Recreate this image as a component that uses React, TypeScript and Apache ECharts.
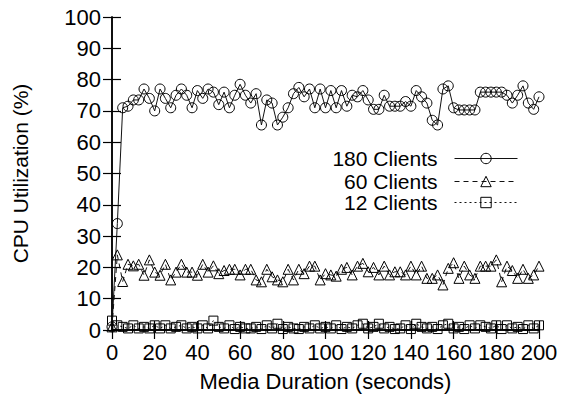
import React, { useEffect, useRef } from "react";
import * as echarts from "echarts";

// sample times (seconds), one sample every 2.5 s
const times: number[] = Array.from({ length: 81 }, (_, i) => i * 2.5);

const seriesNames = ["180 Clients", "60 Clients", "12 Clients"];

const clients180 = [
  1, 34, 71, 71.5, 73.5, 73.5, 77, 74, 70, 77,
  74, 71, 75, 77, 75, 71, 76.5, 74, 77, 76,
  72, 76, 71, 75, 78.5, 75, 72.5, 75.5, 65.5, 73.5,
  72.5, 65.5, 68, 71, 75.5, 77.5, 74.5, 77, 71, 77,
  71, 76.5, 71, 76.5, 71.5, 75, 74.5, 76.5, 73.5, 70.5,
  70.5, 75, 71.5, 71.5, 71.5, 73, 71.5, 76.5, 74.5, 72.5,
  67, 65.5, 77, 78, 71, 70.3, 70.3, 70.3, 70.3, 76,
  76, 76, 76, 76, 75, 72.5, 75, 78, 72.5, 70.5,
  74.5,
];

const clients60 = [
  1, 24, 15.5, 21, 20.5, 21, 17.5, 22.4, 18.5, 17.5,
  21, 16, 18.5, 21, 18.5, 18.5, 17.5, 21, 18.5, 20.5,
  18, 19, 19.4, 19.4, 17.6, 19.4, 19.4, 16, 15.4, 19.4,
  17, 16, 15.4, 19.4, 16, 19.4, 18, 20.4, 20.4, 16,
  18, 17.6, 17.2, 19.4, 20, 17.6, 20.4, 21.3, 18.6, 20,
  17.6, 20.4, 17.6, 18.6, 18.6, 17.6, 20.4, 17.6, 20.4, 16.5,
  16.5, 17.6, 14.4, 19.7, 21.5, 16.5, 20.4, 17.6, 16.5, 20.4,
  20.4, 20.4, 22.4, 15.4, 20.4, 19, 16.5, 19.4, 16.5, 17.6,
  20.4,
];

const clients12 = [
  3, 1.5, 1, 0.5, 1.5, 0.5, 1, 0.5, 1.5, 0.5,
  1.5, 0.5, 1, 1.5, 0.5, 1, 0.5, 1.5, 0.5, 3,
  1, 0.5, 1.5, 0.3, 1, 0.5, 0.5, 1, 0.3, 1.5,
  0.5, 2, 0.3, 1, 0.5, 0.3, 1, 0.5, 1.5, 0.5,
  1, 0.5, 1.5, 0.3, 1, 0.5, 1.5, 2, 0.5, 1,
  2, 0.5, 1, 0.3, 0.5, 1.5, 0.3, 2, 1, 0.5,
  1, 0.3, 1.5, 2, 0.5, 1, 0.3, 1.5, 0.5, 1.5,
  1, 0.5, 1.5, 0.3, 1.5, 0.5, 1, 0.3, 1.5, 0.5,
  1.5,
];

const FONT = "'Liberation Sans', Arial, Helvetica, sans-serif";

export default function App() {
  const ref = useRef<HTMLDivElement>(null);
  useEffect(() => {
    const chart = echarts.init(ref.current!, undefined, { renderer: "svg" });
    const axisLine = { show: true, lineStyle: { color: "#000", width: 1.5 } };
    const tick = { show: true, inside: true, length: 9, lineStyle: { color: "#000", width: 1.2 } };
    const toData = (vals: number[]) => times.map((t, i) => [t, vals[i]]);
    const mk = (name: string, vals: number[], symbol: string, size: number, dash: any) => ({
      name,
      type: "line",
      data: toData(vals),
      symbol,
      symbolSize: size,
      showSymbol: true,
      lineStyle: { color: "#111", width: 1, type: dash },
      itemStyle: { color: "rgba(255,255,255,0)", borderColor: "#000", borderWidth: 1 },
      emphasis: { disabled: true },
    });
    const legendBase = {
      orient: "vertical",
      align: "right",
      right: 45,
      itemWidth: 63,
      itemHeight: 13,
      padding: 0,
      selectedMode: false,
      lineStyle: { width: 1 },
      itemStyle: { borderWidth: 1 },
      textStyle: { fontSize: 21, fontFamily: FONT, color: "#000", padding: [0, 12, 0, 0] },
    };
    chart.setOption({
      animation: false,
      backgroundColor: "#fff",
      textStyle: { fontFamily: FONT },
      grid: { left: 112, right: 24, top: 17, bottom: 68, containLabel: false },
      legend: [
        { ...legendBase, data: [seriesNames[0]], top: 148 },
        { ...legendBase, data: [seriesNames[1]], top: 171 },
        { ...legendBase, data: [seriesNames[2]], top: 192 },
      ],
      xAxis: [
        {
          type: "value",
          min: 0,
          max: 200,
          interval: 20,
          name: "Media Duration (seconds)",
          nameLocation: "middle",
          nameGap: 40,
          nameTextStyle: { fontSize: 22, color: "#000", fontFamily: FONT },
          axisLine,
          axisTick: tick,
          axisLabel: { fontSize: 22, color: "#000", margin: 11, fontFamily: FONT },
          splitLine: { show: false },
        },
        {
          type: "value",
          position: "top",
          min: 0,
          max: 200,
          interval: 20,
          axisLine,
          axisTick: tick,
          axisLabel: { show: false },
          splitLine: { show: false },
        },
      ],
      yAxis: [
        {
          type: "value",
          min: 0,
          max: 100,
          interval: 10,
          name: "CPU Utilization (%)",
          nameLocation: "middle",
          nameGap: 81,
          nameTextStyle: { fontSize: 21, color: "#000", fontFamily: FONT },
          axisLine,
          axisTick: tick,
          axisLabel: { fontSize: 22, color: "#000", margin: 11, fontFamily: FONT },
          splitLine: { show: false },
        },
        {
          type: "value",
          position: "right",
          min: 0,
          max: 100,
          interval: 10,
          axisLine,
          axisTick: tick,
          axisLabel: { show: false },
          splitLine: { show: false },
        },
      ],
      series: [
        mk(seriesNames[0], clients180, "circle", 10, "solid"),
        mk(seriesNames[1], clients60, "triangle", 10, [5, 4]),
        mk(seriesNames[2], clients12, "rect", 9, [2, 3]),
      ],
    });
    return () => chart.dispose();
  }, []);
  return (
    <div
      ref={ref}
      style={{ position: "absolute", left: 0, top: 0, width: 563, height: 398 }}
    />
  );
}
